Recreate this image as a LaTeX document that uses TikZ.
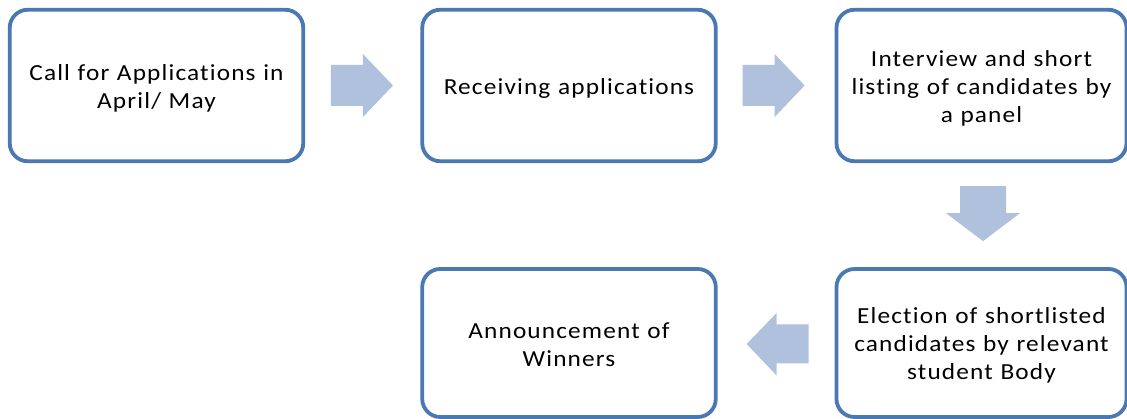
\documentclass[tikz,border=0pt]{standalone}
\usepackage{fontspec}
\setmainfont{Carlito}[FakeStretch=1.1, LetterSpace=5, Ligatures=NoCommon]
\usetikzlibrary{calc}
\definecolor{boxblue}{HTML}{4A78B2}
\definecolor{arrowfill}{HTML}{B0C1DD}
\tikzset{
  stage/.style={draw=boxblue, line width=3.8pt, rounded corners=18pt, fill=white,
    minimum height=151.5pt, inner sep=0pt},
  stagetext/.style={align=center, text width=285pt,
    font=\fontsize{23}{28}\selectfont, inner sep=0pt},
  blockarrow/.style={fill=arrowfill, draw=none}
}
\begin{document}
\begin{tikzpicture}[x=1pt,y=1pt]
\useasboundingbox (0,0) rectangle (1127,-419);
\node[stage, minimum width=293.5pt] (b1) at (156.5,-85.5) {};
\node[stage, minimum width=293.5pt] (b2) at (569,-85.5) {};
\node[stage, minimum width=290pt] (b3) at (981.5,-85.5) {};
\node[stage, minimum width=290pt, minimum height=148pt] (b4) at (981.5,-343) {};
\node[stage, minimum width=293.5pt, minimum height=148pt] (b5) at (569,-343) {};
\node[stagetext] (t1) at ($(b1.center)+(0,-2.5)$) {Call for Applications in\\April/ May};
\node[stagetext] (t2) at ($(b2.center)+(0,-2.5)$) {Receiving applications};
\node[stagetext] (t3) at ($(b3.center)+(0,-2.5)$) {Interview and short\\listing of candidates by\\a panel};
\node[stagetext] (t4) at ($(b4.center)+(0,-2.5)$) {Election of shortlisted\\candidates by relevant\\student Body};
\node[stagetext] (t5) at ($(b5.center)+(0,-2)$) {Announcement of\\Winners};
% block arrows
\coordinate (a1) at ($(b1.east)!0.5!(b2.west)+(-0.8,0)$);
\coordinate (a2) at ($(b2.east)!0.5!(b3.west)+(-2.5,0)$);
\coordinate (a3) at ($(b3.south)!0.5!(b4.north)+(1.5,1.5)$);
\coordinate (a4) at ($(b5.east)!0.5!(b4.west)+(1.5,-1)$);
\fill[blockarrow] (a1) ++(-31,20.5) -- ++(32,0) -- ++(0,11) -- ++(30,-31.5) -- ++(-30,-31.5) -- ++(0,11) -- ++(-32,0) -- cycle;
\fill[blockarrow] (a2) ++(-31,20.5) -- ++(32,0) -- ++(0,11) -- ++(30,-31.5) -- ++(-30,-31.5) -- ++(0,11) -- ++(-32,0) -- cycle;
\fill[blockarrow] (a3) ++(-23,27.5) -- ++(0,-27) -- ++(-14,0) -- ++(37,-28) -- ++(37,28) -- ++(-14,0) -- ++(0,27) -- cycle;
\fill[blockarrow] (a4) ++(31,19.5) -- ++(-32,0) -- ++(0,11.5) -- ++(-30,-31) -- ++(30,-31.5) -- ++(0,12) -- ++(32,0) -- cycle;
\end{tikzpicture}
\end{document}
